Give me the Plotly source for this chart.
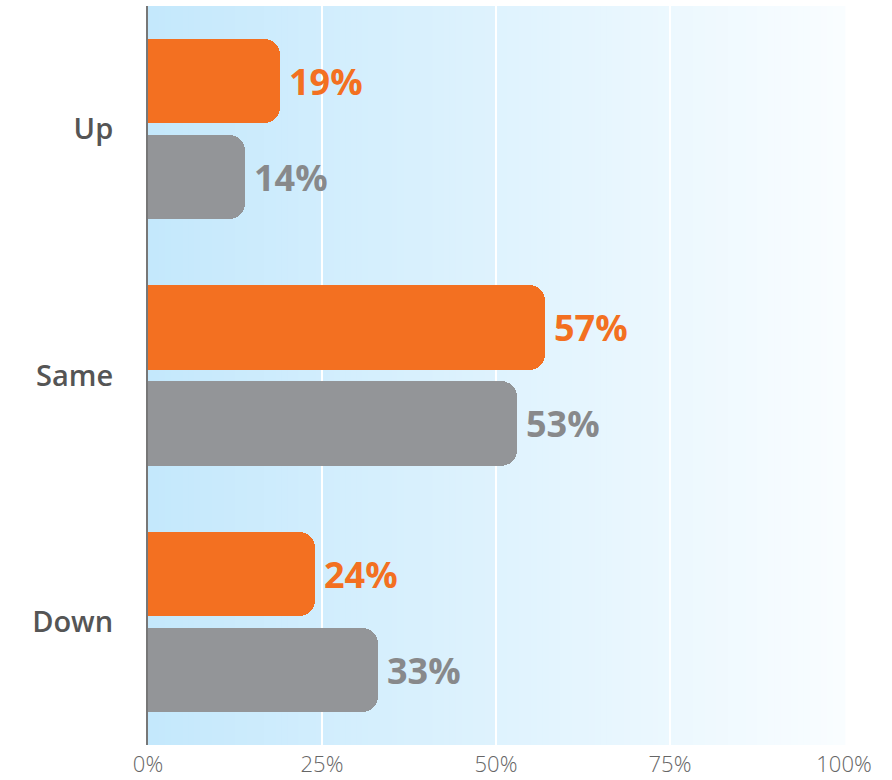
import plotly.graph_objects as go

# Survey responses: share answering Up / Same / Down, two groups
categories = ["Up", "Same", "Down"]
orange_values = [19, 57, 24]
gray_values = [14, 53, 33]
tick_values = [0, 25, 50, 75, 100]
tick_labels = ["0%", "25%", "50%", "75%", "100%"]

ORANGE = "#f37021"
GRAY = "#939598"
ORANGE_TEXT = "#f37021"
GRAY_TEXT = "#88898b"
FONT = "Open Sans, Lato, sans-serif"
PAD = "\u2009"  # thin space between bar end and its value label

fig = go.Figure()

fig.add_trace(go.Bar(
    y=categories, x=orange_values, orientation="h",
    offset=-0.366, width=0.342,
    marker=dict(color=ORANGE, line=dict(width=0)),
    text=[f"{PAD}{v}%" for v in orange_values], textposition="outside",
    textfont=dict(family=FONT, size=36, color=ORANGE_TEXT, weight="bold"),
    cliponaxis=False, hoverinfo="skip", showlegend=False,
))
fig.add_trace(go.Bar(
    y=categories, x=gray_values, orientation="h",
    offset=0.024, width=0.342,
    marker=dict(color=GRAY, line=dict(width=0)),
    text=[f"{PAD}{v}%" for v in gray_values], textposition="outside",
    textfont=dict(family=FONT, size=36, color=GRAY_TEXT, weight="bold"),
    cliponaxis=False, hoverinfo="skip", showlegend=False,
))

# Soft horizontal gradient behind the plot: light blue fading to white
n_strips = 120
c0 = (196, 232, 252)
c1 = (249, 253, 255)
for i in range(n_strips):
    t = i / (n_strips - 1)
    r = round(c0[0] + (c1[0] - c0[0]) * t)
    g = round(c0[1] + (c1[1] - c0[1]) * t)
    b = round(c0[2] + (c1[2] - c0[2]) * t)
    fig.add_shape(
        type="rect", xref="x domain", yref="y domain",
        x0=i / n_strips, x1=(i + 1) / n_strips + 0.002, y0=0, y1=1,
        fillcolor=f"rgb({r},{g},{b})", line=dict(width=0), layer="below",
    )

fig.update_layout(
    width=892, height=780,
    margin=dict(l=148, r=48, t=6, b=35),
    paper_bgcolor="white", plot_bgcolor="rgba(0,0,0,0)",
    barcornerradius=16,
    bargap=0,
    font=dict(family=FONT),
)
fig.update_xaxes(
    range=[0, 100], tickvals=tick_values, ticktext=tick_labels,
    showgrid=True, gridcolor="white", gridwidth=2,
    zeroline=False, showline=False,
    tickfont=dict(family=FONT, size=22, color="#666666", weight=300),
    ticks="", ticklabelstandoff=4, automargin=False, fixedrange=True,
)
fig.update_yaxes(
    categoryorder="array", categoryarray=categories,
    range=[2.5, -0.5],
    showgrid=False, zeroline=False,
    showline=True, linecolor="#777777", linewidth=2,
    ticks="", ticklabelstandoff=27, automargin=False,
    tickfont=dict(family=FONT, size=29, color="#555555", weight=600),
    fixedrange=True,
)

fig.write_html("out.html")
